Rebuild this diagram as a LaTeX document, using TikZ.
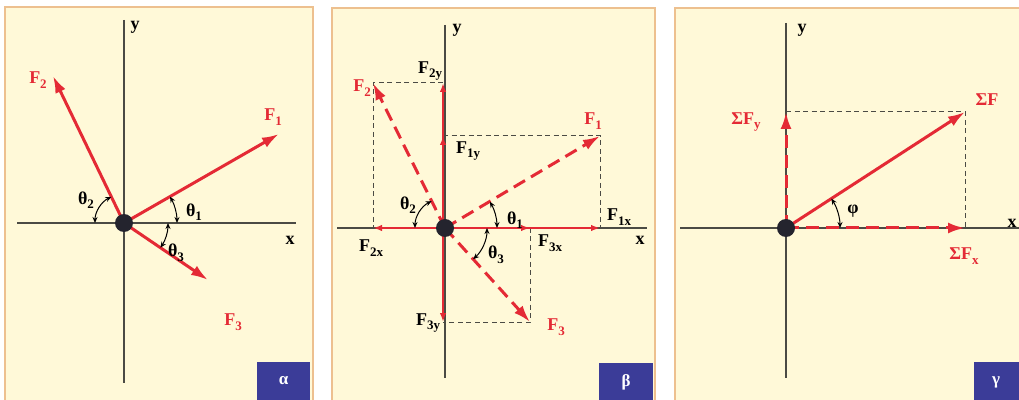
\documentclass[tikz,border=0pt]{standalone}
\usepackage{fontspec}
\setmainfont{Liberation Serif}
\usepackage{xcolor}
\usetikzlibrary{positioning,arrows.meta}
\definecolor{pfill}{HTML}{FFF9D8}
\definecolor{pline}{HTML}{EDC08F}
\definecolor{tagblue}{HTML}{3B3C98}
\definecolor{fred}{HTML}{E42A35}
\definecolor{axgray}{HTML}{4B4B44}
\definecolor{dotc}{HTML}{24242E}
\newcommand\lowsub[1]{\raisebox{-4.5pt}{\fontsize{13}{13}\selectfont #1}}

\begin{document}
\begin{tikzpicture}[x=1pt,y=1pt,
  panel/.style={draw=pline,fill=pfill,line width=1.3pt},
  tagbox/.style={fill=tagblue},
  tagtxt/.style={white,font=\bfseries\fontsize{17}{17}\selectfont},
  axis/.style={axgray,line width=1.2pt},
  force/.style={fred,line width=3pt,-{Latex[length=17pt,width=11pt]}},
  dforce/.style={force,dash pattern=on 13pt off 7pt},
  comp/.style={fred,line width=2.4pt,-{Latex[length=9pt,width=6.5pt]}},
  guide/.style={axgray,line width=1pt,dash pattern=on 5pt off 3.5pt},
  ang/.style={black,line width=1pt,{Stealth[length=6pt,width=5pt]}-{Stealth[length=6pt,width=5pt]}},
  lbl/.style={inner sep=0pt,font=\bfseries\fontsize{18}{18}\selectfont},
  rlbl/.style={lbl,fred},
  dot/.style={circle,fill=dotc,inner sep=0pt,minimum size=18pt}]
\useasboundingbox (0,0) rectangle (1019,399);

% panel alpha
\draw[panel] (5,-5) rectangle (313,392);
\fill[tagbox] (257,-2) rectangle (310,37);
\node[tagtxt] (ta) at (283.5,18) {α};
\coordinate (Oa) at (124,176);
\coordinate (a1) at (279,265);
\coordinate (a2) at (53,323);
\coordinate (a3) at (208,119);
\draw[axis] (124,379) -- (124,16);
\draw[axis] (17,176) -- (296,176);
\node[lbl] (ya) at (135,372) {y};
\node[lbl] (xa) at (290,159) {x};
\draw[force] (Oa) -- (a1);
\draw[force] (Oa) -- (a2);
\draw[force] (Oa) -- (a3);
\node[dot] (da) at (Oa) {};
\node[rlbl] (la1) at (273,282) {F\lowsub{1}};
\node[rlbl] (la2) at (38,319) {F\lowsub{2}};
\node[rlbl] (la3) at (233,77) {F\lowsub{3}};
\draw[ang] ([shift={(29.9:53pt)}]Oa) arc[start angle=29.9,end angle=0,radius=53pt];
\draw[ang] ([shift={(180:29pt)}]Oa) arc[start angle=180,end angle=115.8,radius=29pt];
\draw[ang] ([shift={(0:44pt)}]Oa) arc[start angle=0,end angle=-34.2,radius=44pt];
\node[lbl] (ta1) at (194,187) {θ\lowsub{1}};
\node[lbl] (ta2) at (86,199) {θ\lowsub{2}};
\node[lbl] (ta3) at (176,146) {θ\lowsub{3}};

% panel beta
\draw[panel] (332,-5) rectangle (655,391);
\fill[tagbox] (599,-2) rectangle (653,36);
\node[tagtxt] (tb) at (626,17) {β};
\coordinate (Ob) at (445,171);
\coordinate (b1) at (600,263);
\coordinate (b2) at (373,316);
\coordinate (b3) at (530,77);
\coordinate (b1x) at (600,171);
\coordinate (b2x) at (373,171);
\coordinate (b3x) at (530,171);
\coordinate (b1y) at (443,263);
\coordinate (b2y) at (443,316);
\coordinate (b3y) at (443,77);
\draw[axis] (445,374) -- (445,21);
\draw[axis] (337,171) -- (647,171);
\node[lbl] (yb) at (457,369) {y};
\node[lbl] (xb) at (640,159) {x};
\draw[guide] (b1y) -- (b1) -- (b1x);
\draw[guide] (b2y) -- (b2) -- (b2x);
\draw[guide] (b3x) -- (b3) -- (b3y);
\draw[comp] (Ob) -- (b1x);
\draw[comp] (Ob) -- (b3x);
\draw[comp] (Ob) -- (b2x);
\draw[comp] (443,171) -- (b2y);
\draw[comp] (443,171) -- (b1y);
\draw[comp] (443,171) -- (b3y);
\draw[dforce] (Ob) -- (b1);
\draw[dforce] (Ob) -- (b2);
\draw[dforce] (Ob) -- (b3);
\node[dot] (db) at (Ob) {};
\node[rlbl] (lb1) at (593,278) {F\lowsub{1}};
\node[rlbl] (lb2) at (362,311) {F\lowsub{2}};
\node[rlbl] (lb3) at (556,72) {F\lowsub{3}};
\node[lbl] (lb2y) at (430,328) {F\lowsub{2y}};
\node[lbl] (lb1y) at (468,248) {F\lowsub{1y}};
\node[lbl] (lb1x) at (619,182) {F\lowsub{1x}};
\node[lbl] (lb2x) at (371,151) {F\lowsub{2x}};
\node[lbl] (lb3x) at (550,156) {F\lowsub{3x}};
\node[lbl] (lb3y) at (428,76) {F\lowsub{3y}};
\draw[ang] ([shift={(30.4:52pt)}]Ob) arc[start angle=30.4,end angle=0,radius=52pt];
\draw[ang] ([shift={(180:30pt)}]Ob) arc[start angle=180,end angle=116.4,radius=30pt];
\draw[ang] ([shift={(0:42pt)}]Ob) arc[start angle=0,end angle=-47.9,radius=42pt];
\node[lbl] (tb1) at (515,179) {θ\lowsub{1}};
\node[lbl] (tb2) at (408,194) {θ\lowsub{2}};
\node[lbl] (tb3) at (496,144) {θ\lowsub{3}};

% panel gamma
\draw[panel] (675,-5) rectangle (1030,391);
\fill[tagbox] (974,-2) rectangle (1025,37);
\node[tagtxt] (tc) at (996,17) {γ};
\coordinate (Oc) at (786,171);
\coordinate (c1) at (965,287);
\coordinate (cx) at (965,171);
\coordinate (cy) at (786,287);
\draw[axis] (786,376) -- (786,21);
\draw[axis] (680,171) -- (1025,171);
\node[lbl] (yc) at (802,369) {y};
\node[lbl] (xc) at (1012,176) {x};
\draw[guide] (cy) -- (c1) -- (cx);
\draw[dforce] (Oc) -- (cx);
\draw[dforce] (Oc) -- (cy);
\draw[force] (Oc) -- (c1);
\node[dot] (dc) at (Oc) {};
\node[rlbl] (lc1) at (987,299) {ΣF};
\node[rlbl] (lcy) at (746,277) {ΣF\lowsub{y}};
\node[rlbl] (lcx) at (964,143) {ΣF\lowsub{x}};
\draw[ang] ([shift={(33:54pt)}]Oc) arc[start angle=33,end angle=0,radius=54pt];
\node[lbl] (pc) at (853,188) {φ};
\end{tikzpicture}
\end{document}
